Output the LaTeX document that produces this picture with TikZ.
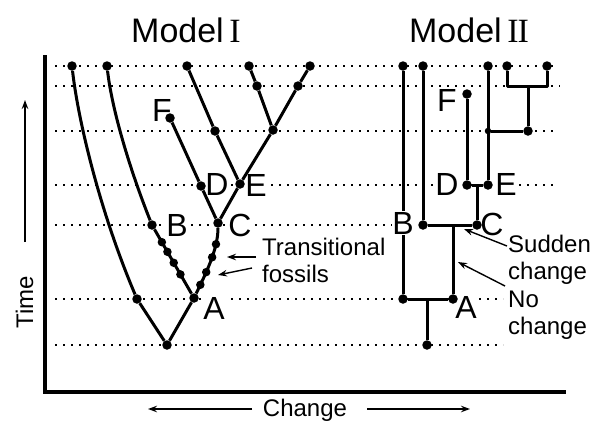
\documentclass[tikz,border=0pt]{standalone}
\usepackage{fontspec}
\setmainfont{Liberation Sans}
\newfontfamily\romfont{Liberation Serif}
\usetikzlibrary{arrows.meta, positioning, calc}

\begin{document}
\begin{tikzpicture}[x=1pt, y=-1pt,
  dot/.style={circle, fill=black, minimum size=#1, inner sep=0pt},
  dot/.default=9.5pt,
  br/.style={line width=3pt, line join=round},
  lvl/.style={line width=1.8pt, dash pattern=on 2.4pt off 5.6pt},
  lab/.style={font=\fontsize{32}{32}\selectfont, fill=white, inner sep=0.6pt},
  note/.style={font=\fontsize{24}{26}\selectfont, anchor=base west, inner sep=0pt},
  ttl/.style={font=\fontsize{34}{36}\selectfont, anchor=base, inner sep=0pt},
  ar/.style={-{Stealth[length=9pt, width=6.5pt]}, line width=1.4pt}
]
  \useasboundingbox (0,0) rectangle (594,421);

  % ── titles and axes ─────────────────────────────────────────────────────
  \node[ttl] (ttl1) at (186,42) {Model\,{\romfont I}};
  \node[ttl] (ttl2) at (469,42) {Model\,{\romfont I\kern-1.2pt I}};
  \draw[line width=4pt, line join=miter] (45,55) -- (45,392) -- (566,392);
  \node[note, anchor=base, rotate=90] (tme) at (33,302) {Time};
  \coordinate (tlo) at (25,242);
  \coordinate (thi) at (25,100);
  \draw[ar] (tlo) -- (thi);
  \node[note, anchor=base] (chg) at (305,416) {Change};
  \coordinate (cl0) at (252,409);
  \coordinate (cl1) at (148,409);
  \coordinate (cr0) at (367,409);
  \coordinate (cr1) at (470,409);
  \draw[ar] (cl0) -- (cl1);
  \draw[ar] (cr0) -- (cr1);

  % ── time levels ─────────────────────────────────────────────────────────
  \foreach \y/\xe in {66/557, 86/560, 131/555, 185/555, 225/393, 299/503, 345/503}
    \draw[lvl] (55,\y) -- (\xe,\y);

  % ── labels ──────────────────────────────────────────────────────────────
  \node[lab] (lA1) at (214,308) {A};
  \node[lab] (lB1) at (177,225) {B};
  \node[lab] (lC1) at (240,225) {C};
  \node[lab] (lD1) at (217,184) {D};
  \node[lab] (lE1) at (256,185) {E};
  \node[lab] (lF1) at (162,110) {F};
  \node[lab] (lA2) at (466,307) {A};
  \node[lab] (lB2) at (403,223) {B};
  \node[lab] (lC2) at (492,224) {C};
  \node[lab] (lD2) at (447,184) {D};
  \node[lab] (lE2) at (506,184) {E};
  \node[lab] (lF2) at (447,100) {F};

  % ── Model I ─────────────────────────────────────────────────────────────
  \node[dot] (r1) at (167,345) {};
  \node[dot] (l1) at (137,299) {};
  \node[dot] (a1) at (194,298) {};
  \node[dot] (b1) at (152,225) {};
  \node[dot] (c1) at (218,223) {};
  \node[dot] (d1) at (201,186) {};
  \node[dot] (f1) at (170,118) {};
  \node[dot] (e1) at (240,184) {};
  \node[dot] (h1) at (215,131) {};
  \node[dot] (g1) at (273,130) {};
  \node[dot] (k1) at (257,86) {};
  \node[dot] (k2) at (298,86) {};
  \node[dot] (t1) at (72,66) {};
  \node[dot] (t2) at (107,66) {};
  \node[dot] (t3) at (187,66) {};
  \node[dot] (t4) at (249,66) {};
  \node[dot] (t5) at (310,66) {};

  \draw[br] (r1) -- (l1);
  \draw[br] (l1) .. controls (100,212) and (78,120) .. (t1);
  \draw[br] (r1) -- (a1);
  \draw[br] (a1) -- node[dot=8.5pt, pos=.3] (fb1) {} node[dot=8.5pt, pos=.48] (fb2) {}
                    node[dot=8.5pt, pos=.65] (fb3) {} node[dot=8.5pt, pos=.8] (fb4) {} (b1);
  \draw[br] (b1) .. controls (130,170) and (112,110) .. (t2);
  \draw[br] (a1) .. controls (205,275) and (218,250) .. node[dot=8.5pt, pos=.15] (fc1) {}
                    node[dot=8.5pt, pos=.35] (fc2) {} node[dot=8.5pt, pos=.57] (fc3) {}
                    node[dot=8.5pt, pos=.76] (fc4) {} (c1);
  \draw[br] (c1) -- (d1) -- (f1);
  \draw[br] (c1) -- (e1) -- (g1);
  \draw[br] (e1) -- (h1) -- (t3);
  \draw[br] (g1) -- (k1) -- (t4);
  \draw[br] (g1) -- (k2) -- (t5);

  % ── Model II ────────────────────────────────────────────────────────────
  \node[dot] (r2) at (427,345) {};
  \node[dot] (a2l) at (403,299) {};
  \node[dot] (a2r) at (453,299) {};
  \node[dot] (c2l) at (423,225) {};
  \node[dot] (c2r) at (477,225) {};
  \node[dot] (d2) at (467,185) {};
  \node[dot] (e2) at (488,185) {};
  \node[dot] (f2) at (467,94) {};
  \node[dot=6.5pt] (j2) at (488,131) {};
  \node[dot] (m2) at (528,131) {};
  \node[dot] (u1) at (403,66) {};
  \node[dot] (u2) at (423,66) {};
  \node[dot] (u3) at (488,66) {};
  \node[dot] (u4) at (507,66) {};
  \node[dot] (u5) at (547,66) {};
  \coordinate (ja) at (427,299);
  \coordinate (jc) at (453,225);
  \coordinate (jd) at (477,185);
  \coordinate (jm) at (528,86);
  \coordinate (q1) at (507,86);
  \coordinate (q2) at (547,86);

  \draw[br] (r2) -- (ja);
  \draw[br] (a2l) -- (a2r);
  \draw[br] (a2l) -- (lB2.south -| a2l);
  \draw[br] (lB2.north -| a2l) -- (u1);
  \draw[br] (a2r) -- (jc);
  \draw[br] (c2l) -- (c2r);
  \draw[br] (c2l) -- (u2);
  \draw[br] (c2r) -- (jd);
  \draw[br] (d2) -- (e2);
  \draw[br] (d2) -- (f2);
  \draw[br] (e2) -- (u3);
  \draw[br] (j2) -- (m2);
  \draw[br] (m2) -- (jm);
  \draw[br] (u4) -- (q1) -- (q2) -- (u5);

  % ── notes ───────────────────────────────────────────────────────────────
  \node[note] (trn1) at (262,255) {Transitional};
  \node[note] (trn2) at (262,282) {fossils};
  \coordinate (tf1s) at (256,257);
  \coordinate (tf1e) at (227,257);
  \coordinate (tf2s) at (252,268);
  \coordinate (tf2e) at (218,275);
  \draw[ar] (tf1s) -- (tf1e);
  \draw[ar] (tf2s) -- (tf2e);

  \node[note] (sud1) at (508,252) {Sudden};
  \node[note] (sud2) at (508,279) {change};
  \node[note] (noc1) at (508,307) {No};
  \node[note] (noc2) at (508,334) {change};
  \coordinate (sds) at (507,246);
  \coordinate (sde) at (464,229);
  \coordinate (ncs) at (505,286);
  \coordinate (nce) at (458,262);
  \draw[ar] (sds) -- (sde);
  \draw[ar] (ncs) -- (nce);
\end{tikzpicture}
\end{document}
